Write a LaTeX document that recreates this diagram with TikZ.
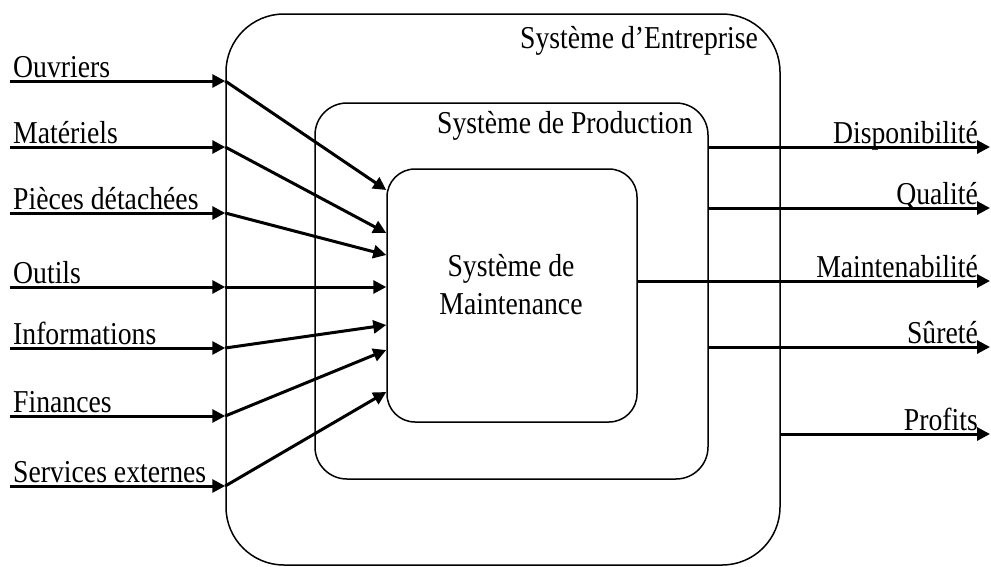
\documentclass[tikz,border=0pt]{standalone}
\usepackage{fontspec}
\setmainfont{Liberation Serif}
\usepackage{graphicx}
\usetikzlibrary{arrows.meta}
\newcommand{\tall}[1]{\scalebox{1}[1.15]{#1}}
\tikzset{
	sysbox/.style={draw, line width=1.5pt, rounded corners=#1, inner sep=0pt},
	flow/.style={line width=3pt, -{Triangle[length=13pt,width=13pt]}},
	lbl/.style={inner sep=0pt, font=\fontsize{27.7}{32}\selectfont}
}

\begin{document}
\begin{tikzpicture}[x=1pt, y=-1pt]
\useasboundingbox (0,0) rectangle (991,566);
\node[sysbox=58pt, minimum width=554pt, minimum height=551pt] (ent) at (503,289.5) {};
\node[sysbox=32pt, minimum width=393pt, minimum height=376pt] (prod) at (511.5,291) {};
\node[sysbox=28pt, minimum width=250pt, minimum height=253pt] (maint) at (512,295.5) {};
\node[lbl, anchor=base west] (entl) at (520,48) {\tall{Système d’Entreprise}};
\node[lbl, anchor=base west] (prodl) at (437,133) {\tall{Système de Production}};
\node[lbl, anchor=base] (maintl1) at (511,276) {\tall{Système de}};
\node[lbl, anchor=base] (maintl2) at (511,314) {\tall{Maintenance}};
\foreach \n/\txt/\y/\t in {1/Ouvriers/81/190, 2/Matériels/147/233, 3/Pièces détachées/213/255,
	4/Outils/287/287, 5/Informations/348/325, 6/Finances/416/350, 7/Services externes/486/392} {
	\coordinate (s\n) at (10,\y);
	\coordinate (t\n) at (maint.west |- 0,\t);
	\node[lbl, anchor=base west] (i\n) at (13,\y-4) {\tall{\txt}};
	\draw[flow] (s\n) -- (ent.west |- s\n);
	\draw[flow] (ent.west |- s\n) -- (t\n);
}
\foreach \n/\txt/\y/\src in {1/Disponibilité/147/prod, 2/Qualité/208/prod, 3/Maintenabilité/281/maint,
	4/Sûreté/347/prod, 5/Profits/434/ent} {
	\coordinate (e\n) at (990,\y);
	\node[lbl, anchor=base east] (o\n) at (978,\y-4) {\tall{\txt}};
	\draw[flow] (\src.east |- e\n) -- (e\n);
}
\end{tikzpicture}
\end{document}
